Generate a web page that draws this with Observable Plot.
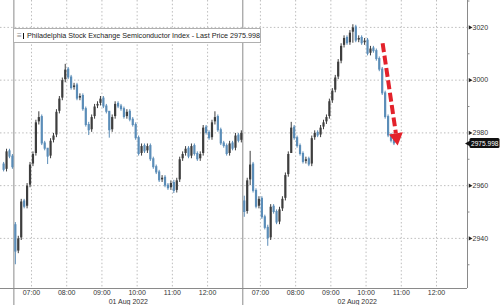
<!DOCTYPE html>
<html><head><meta charset="utf-8">
<script src="https://cdn.jsdelivr.net/npm/d3@7"></script>
<script src="https://cdn.jsdelivr.net/npm/@observablehq/plot@0.6"></script>
<style>
html,body{margin:0;padding:0;background:#fff;overflow:hidden;}
#wrap{position:relative;width:500px;height:305px;}
#legend{position:absolute;left:13px;top:28px;width:246px;height:13px;border:1px solid #b0b0b0;background:#fff;
  font:7.2px "Liberation Sans",Arial,sans-serif;color:#222;white-space:nowrap;display:flex;align-items:center;box-sizing:content-box;overflow:hidden;}
#legend .ic1{display:inline-block;color:#888;font-size:8px;margin-left:3px;line-height:8px;}
#legend .ic2{display:inline-block;width:6px;height:6px;background:#111;margin-left:1px;margin-right:3px;}
</style></head><body><div id="wrap"><div id="legend"><span class="ic1">≡</span><span class="ic2"></span><span id="ltxt"></span></div></div>
<script>
// ---- data ----
const seriesName = "Philadelphia Stock Exchange Semiconductor Index - Last Price 2975.998";
const lastPrice = 2975.998;
// 5-minute bars; Jul 29 (last 4 bars of session), Aug 1, Aug 2
const prevOpen = 2968;
const prevCloses = [2966, 2973, 2971, 2967];
const day1Open = 2945;
const day1Closes = [2935,2940,2954,2952,2960,2968,2972,2984,2986,2976,
 2974,2971,2977,2979,2988,2993,3000,3004,3001,2997,
 2998,2993,2994,2989,2983,2981,2986,2990,2991,2993,
 2990,2988,2981,2986,2991,2990,2989,2986,2988,2985,
 2983,2978,2972,2975,2973,2975,2970,2967,2965,2962,
 2963,2960,2959,2961,2958,2962,2970,2972,2974,2971,
 2975,2972,2970,2972,2982,2980,2978,2984,2986,2981,
 2976,2975,2972,2976,2974,2979,2977,2980];
const day2Open = 2954;
const day2Closes = [2950,2962,2968,2958,2952,2955,2948,2944,2940,2952,
 2950,2946,2951,2955,2964,2972,2982,2978,2975,2972,
 2969,2970,2968,2978,2980,2979,2982,2984,2986,2992,
 2996,3001,3007,3013,3016,3014,3018,3020,3015,3016,
 3014,3015,3010,3012,3011,3008,3004,2995,2986,2979,
 2977,2976];
// notable wick extremes: [day, bar, low, high]
const extremes = [[1,0,2930,2946],[1,8,2983,2988],[1,11,2968,2974],[1,17,2999,3006],[1,25,2979,2984],
 [1,32,2978,2988],[1,54,2957,2962],[1,68,2983,2988],[2,0,2948,2956],[2,2,2960,2973],[2,8,2937,2945],
 [2,16,2975,2984],[2,37,3014,3021]];
const yTicks = [2940, 2960, 2980, 3000, 3020];
const yMinor = [2930, 2950, 2970, 2990, 3010, 3030];
const hours = [7, 8, 9, 10, 11, 12];
const hourLabels = ["07:00","08:00","09:00","10:00","11:00","12:00"];
const dateLabels = ["01 Aug 2022","02 Aug 2022"];
const arrowFrom = {day: 2, time: 10.47, price: 3014};
const arrowTo = {day: 2, time: 10.90, price: 2975.3};

// ---- build table (x = session hours, Aug 1 open = 0) ----
const sessionLen = 6.5, sessionStart = 6.5;
const xOf = (day, t) => (day - 1) * sessionLen + (t - sessionStart);
const bars = [];
function addDay(day, open, closes, firstBar) {
  let o = open;
  closes.forEach((c, k) => {
    const i = firstBar + k;
    const ext = extremes.find(e => e[0] === day && e[1] === i);
    const lo = ext ? ext[2] : Math.min(o, c) - 0.8;
    const hi = ext ? ext[3] : Math.max(o, c) + 0.8;
    bars.push({x: xOf(day, sessionStart + (i * 5 + 2.5) / 60), open: o, close: c, lo, hi, up: c >= o});
    o = c;
  });
}
addDay(0, prevOpen, prevCloses, 74);
addDay(1, day1Open, day1Closes, 0);
addDay(2, day2Open, day2Closes, 0);

const xDomain = [-0.38, 12.88];
const yDomain = [2921, 3030.2];
const hourTicks = [];
[1, 2].forEach((d) => hours.forEach((h, k) => hourTicks.push({x: xOf(d, h), label: hourLabels[k]})));
const dayStarts = [xOf(1, sessionStart), xOf(2, sessionStart)];
const dayCenters = [1, 2].map((d, i) => ({x: xOf(d, sessionStart + sessionLen / 2), label: dateLabels[i]}));
const shaft = [{x1: xOf(arrowFrom.day, arrowFrom.time), y1: arrowFrom.price,
  x2: xOf(arrowTo.day, arrowTo.time - 0.053), y2: arrowTo.price + 4.5}];
const head = [{x: xOf(arrowTo.day, arrowTo.time - 0.036), y: arrowTo.price + 3.0}];

const upC = "#3d3d3d", dnC = "#5b8db8", gridC = "#bdbdbd", axisC = "#8a8a8a", txtC = "#333";

const chart = Plot.plot({
  width: 500, height: 305,
  marginLeft: 0, marginRight: 33, marginTop: 0, marginBottom: 17,
  x: {domain: xDomain, axis: null},
  y: {domain: yDomain, axis: null},
  style: {fontFamily: "'Liberation Sans', Arial, sans-serif", fontSize: "7px", background: "white", overflow: "visible"},
  marks: [
    Plot.ruleY(yTicks, {stroke: gridC, strokeDasharray: "1.5,2.2"}),
    Plot.ruleX(hourTicks, {x: "x", stroke: gridC, strokeDasharray: "1.5,2.2"}),
    Plot.ruleX(dayStarts, {stroke: axisC, insetBottom: -17}),
    Plot.ruleX(bars, {x: "x", y1: "lo", y2: "hi", stroke: d => d.up ? upC : dnC, strokeWidth: 1}),
    Plot.ruleX(bars, {x: "x", y1: "open", y2: "close", stroke: d => d.up ? upC : dnC, strokeWidth: 2.2, insetTop: -0.5, insetBottom: -0.5}),
    Plot.ruleX([xDomain[1]], {stroke: axisC}),
    Plot.ruleY([yDomain[0]], {stroke: axisC, x1: xDomain[0], x2: xDomain[1]}),
    Plot.ruleY(yMinor, {x1: xDomain[1], x2: xDomain[1] + 0.07, stroke: axisC}),
    Plot.dot(yTicks, {x: xDomain[1], y: d => d, symbol: "triangle", r: 1.6, rotate: 90, fill: "#222", stroke: null, dx: 2.5}),
    Plot.text(yTicks, {x: xDomain[1], y: d => d, text: d => String(d), dx: 5, textAnchor: "start", fill: txtC}),
    Plot.text(hourTicks, {x: "x", text: "label", frameAnchor: "bottom", dy: 6.5, fill: txtC}),
    Plot.text(dayCenters, {x: "x", text: "label", frameAnchor: "bottom", dy: 15, fill: txtC}),
    // last price tag
    Plot.rect([lastPrice], {x1: xDomain[1], x2: xDomain[1], y1: d => d, y2: d => d, insetLeft: 2.5, insetRight: -32.5, insetTop: -5, insetBottom: -5, fill: "#111", rx: 1.5}),
    Plot.dot([lastPrice], {x: xDomain[1], y: d => d, symbol: "triangle", r: 3.2, rotate: -90, fill: "#111", dx: 2.5}),
    Plot.text([lastPrice], {x: xDomain[1], y: d => d, text: d => d.toFixed(3), dx: 3.5, textAnchor: "start", fill: "white", fontSize: 6.6}),
    // red dashed arrow
    Plot.link(shaft, {x1: "x1", y1: "y1", x2: "x2", y2: "y2", stroke: "#e3222b", strokeWidth: 4, strokeDasharray: "9,3.5"}),
    Plot.dot(head, {x: "x", y: "y", symbol: "triangle", r: 5.2, rotate: 171.6, fill: "#e3222b", stroke: null})
  ]
});
document.getElementById("wrap").prepend(chart);
document.getElementById("ltxt").textContent = seriesName;
</script></body></html>
